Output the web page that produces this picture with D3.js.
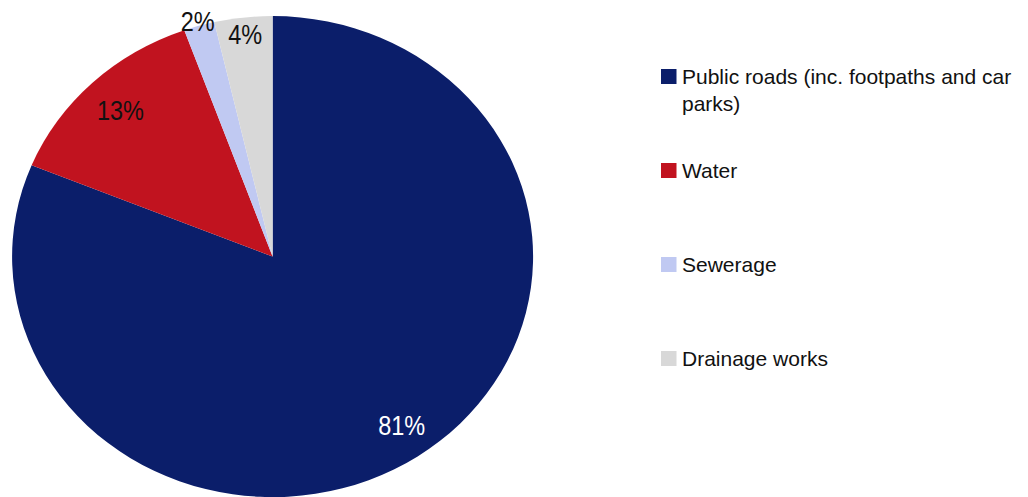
<!DOCTYPE html>
<html>
<head>
<meta charset="utf-8">
<script src="https://cdn.jsdelivr.net/npm/d3@7/dist/d3.min.js"></script>
<style>
html,body{margin:0;padding:0;background:#fff;}
svg{display:block;font-family:"Liberation Sans",Arial,sans-serif;}
</style>
</head>
<body>
<svg id="chart" width="1028" height="497"></svg>
<script>
const categories = ["Public roads (inc. footpaths and car parks)", "Water", "Sewerage", "Drainage works"];
const legendLines = [["Public roads (inc. footpaths and car", "parks)"], ["Water"], ["Sewerage"], ["Drainage works"]];
const values = [81.2, 13.3, 1.9, 3.6];
const labels = ["81%", "13%", "2%", "4%"];
const colors = ["#0b1e6a", "#c1131f", "#c0c9f2", "#d8d8d8"];

const svg = d3.select("#chart");
const cx = 272.6, cy = 256.6, rx = 260.5, ry = 240.5;

const pie = d3.pie().sort(null).value(d => d)(values);
const arc = d3.arc().innerRadius(0).outerRadius(1);

const g = svg.append("g").attr("transform", `translate(${cx},${cy})`);
g.selectAll("path").data(pie).enter().append("path")
  .attr("transform", `scale(${rx},${ry})`)
  .attr("d", arc)
  .attr("fill", (d, i) => colors[i]);

// label positions as fraction of radius along slice mid-angle, plus small nudges
const labelR = [0.842, 0.845, 1.02, 0.93];
const labelDx = [7, 0, 0, 0];
const labelColor = ["#ffffff", "#111111", "#111111", "#111111"];
g.selectAll("text.lbl").data(pie).enter().append("text")
  .attr("class", "lbl")
  .attr("transform", (d, i) => {
    const a = (d.startAngle + d.endAngle) / 2;
    const x = Math.sin(a) * rx * labelR[i] + labelDx[i];
    const y = -Math.cos(a) * ry * labelR[i];
    return `translate(${x},${y}) scale(0.84,1)`;
  })
  .attr("dy", "0.36em")
  .attr("text-anchor", "middle")
  .attr("font-size", "28px")
  .attr("fill", (d, i) => labelColor[i])
  .text((d, i) => labels[i]);

// legend
const ly = d3.scaleLinear().domain([0, 3]).range([69, 351]);
const leg = svg.append("g");
categories.forEach((c, i) => {
  const y0 = ly(i);
  leg.append("rect").attr("x", 661).attr("y", y0).attr("width", 15.5).attr("height", 15)
    .attr("fill", colors[i]);
  const t = leg.append("text").attr("x", 682).attr("y", y0 + 14.5)
    .attr("font-size", "21px").attr("fill", "#111");
  legendLines[i].forEach((ln, j) => {
    t.append("tspan").attr("x", 682).attr("dy", j === 0 ? 0 : 27).text(ln);
  });
});
</script>
</body>
</html>
